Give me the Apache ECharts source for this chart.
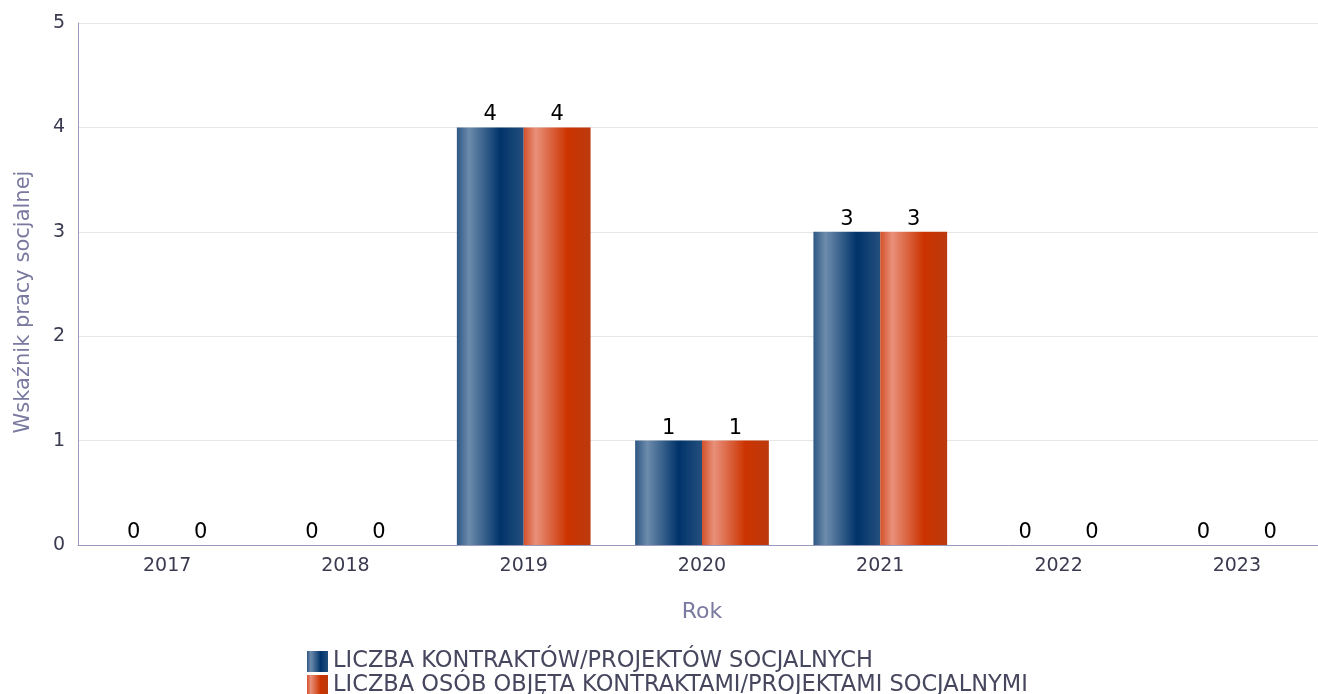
<!DOCTYPE html>
<html><head><meta charset="utf-8">
<script src="https://cdn.jsdelivr.net/npm/echarts@6/dist/echarts.min.js"></script>
<style>html,body{margin:0;padding:0;background:#fff}#c{width:1318px;height:694px}</style>
</head><body><div id="c"></div>
<script>
var years = ['2017','2018','2019','2020','2021','2022','2023'];
var seriesNames = ['LICZBA KONTRAKTÓW/PROJEKTÓW SOCJALNYCH','LICZBA OSÓB OBJĘTA KONTRAKTAMI/PROJEKTAMI SOCJALNYMI'];
var contracts = [0,0,4,1,3,0,0];
var persons = [0,0,4,1,3,0,0];
var yTicks = [0,1,2,3,4,5];

function grad(c0,c1,c2,c3){
  return new echarts.graphic.LinearGradient(0,0,1,0,[
    {offset:0,color:c0},{offset:0.18,color:c1},{offset:0.65,color:c2},{offset:1,color:c3}]);
}
var blue = grad('#2e5784','#6d8cac','#00336a','#244f7e');
var orange = grad('#d4512a','#e8907a','#cc3300','#bb3a0e');
var font = 'DejaVu Sans, sans-serif';
var legendText = {fontSize:22.5,color:'#46465e',fontFamily:font};
var chart = echarts.init(document.getElementById('c'));
chart.setOption({
  animation:false,
  textStyle:{fontFamily:font},
  grid:{left:78,right:-8,top:23,bottom:149,containLabel:false,outerBoundsMode:'none'},
  legend:[
    {left:302,top:645,itemWidth:21,itemHeight:21,itemGap:6,icon:'rect',textStyle:legendText,
     data:[{name:seriesNames[0],itemStyle:{color:blue}}]},
    {left:302,top:669,itemWidth:21,itemHeight:21,itemGap:6,icon:'rect',textStyle:legendText,
     data:[{name:seriesNames[1],itemStyle:{color:orange}}]}
  ],
  xAxis:{type:'category',data:years,name:'Rok',nameLocation:'middle',nameGap:56,
    nameTextStyle:{fontSize:22,color:'#7a7aa0'},
    axisLine:{lineStyle:{color:'#9999bb'}},axisTick:{show:false},
    axisLabel:{fontSize:19,color:'#3a3a50',margin:12}},
  yAxis:{type:'value',min:0,max:5,interval:1,name:'Wskaźnik pracy socjalnej',nameLocation:'middle',nameGap:44,
    nameTextStyle:{fontSize:21,color:'#7a7aa0',padding:[0,36,0,0]},
    axisLine:{show:true,lineStyle:{color:'#9999bb'}},
    splitLine:{lineStyle:{color:'#e6e6e6'}},
    axisLabel:{fontSize:19,color:'#3a3a50',margin:13,formatter:function(v){return yTicks.indexOf(v)>=0?String(v):'';}}},
  series:[
    {name:seriesNames[0],type:'bar',data:contracts,barGap:'0%',barCategoryGap:'25%',itemStyle:{color:blue},
     label:{show:true,position:'top',fontSize:21,color:'#000',distance:2}},
    {name:seriesNames[1],type:'bar',data:persons,itemStyle:{color:orange},
     label:{show:true,position:'top',fontSize:21,color:'#000',distance:2}}
  ]
});
</script></body></html>
